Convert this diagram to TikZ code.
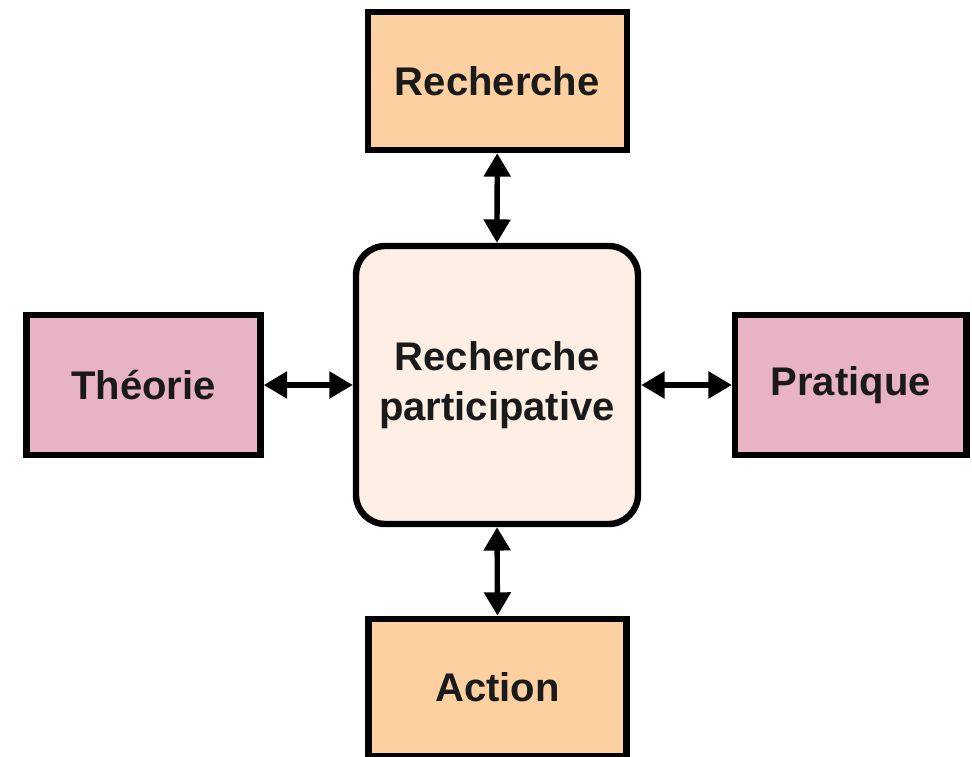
\documentclass[tikz,border=0pt]{standalone}
\usepackage{fontspec}
\setmainfont{Liberation Sans}
\usetikzlibrary{arrows.meta}
\definecolor{peach}{HTML}{FDD0A2}
\definecolor{cream}{HTML}{FDEFE3}
\definecolor{rose}{HTML}{E8B4C4}
\definecolor{ink}{HTML}{1A1A1A}
\tikzset{
  box/.style={draw=black, line width=4.8pt, inner sep=0pt, align=center, text=ink,
    font=\fontsize{30}{37.5}\selectfont\bfseries},
  biarrow/.style={line width=4pt, {Triangle[width=19.5pt,length=17.5pt]}-{Triangle[width=19.5pt,length=17.5pt]}}
}
\begin{document}
\begin{tikzpicture}[x=0.75pt,y=-0.75pt]
\useasboundingbox (0,0) rectangle (972,757);
\node[box, fill=peach, minimum width=194.3pt, minimum height=103.5pt] (rech) at (497.25,81) {Recherche};
\node[box, fill=cream, rounded corners=22pt, minimum width=211.5pt, minimum height=208.5pt] (center) at (497,385) {Recherche\\participative};
\node[box, fill=rose, minimum width=175.5pt, minimum height=104.6pt] (theo) at (143.5,385) {Théorie};
\node[box, fill=rose, minimum width=173.6pt, minimum height=104.6pt] (prat) at (850.75,385) {Pratique};
\node[box, fill=peach, minimum width=193.5pt, minimum height=103pt] (action) at (497.5,687.5) {Action};
\draw[biarrow] (rech.south) -- (center.north);
\draw[biarrow] (center.south) -- (action.north);
\draw[biarrow] (theo.east) -- (center.west);
\draw[biarrow] (center.east) -- (prat.west);
\end{tikzpicture}
\end{document}
